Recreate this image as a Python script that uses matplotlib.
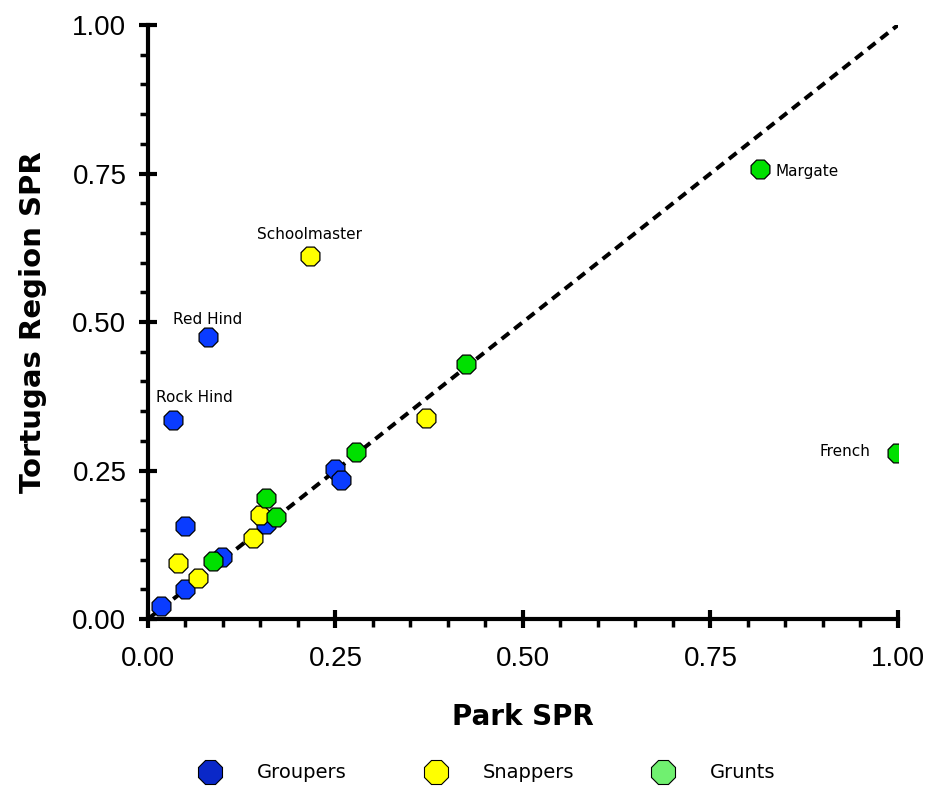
import matplotlib
matplotlib.use("Agg")
import matplotlib.pyplot as plt
from matplotlib.ticker import MultipleLocator
from matplotlib.lines import Line2D

# Park SPR (x) vs Tortugas Region SPR (y)
grouper_x = [0.017, 0.050, 0.049, 0.033, 0.080, 0.099, 0.157, 0.249, 0.257]
grouper_y = [0.022, 0.050, 0.157, 0.335, 0.475, 0.104, 0.160, 0.252, 0.234]

snapper_x = [0.040, 0.067, 0.140, 0.149, 0.216, 0.371]
snapper_y = [0.094, 0.069, 0.137, 0.175, 0.611, 0.338]

grunt_x = [0.087, 0.157, 0.171, 0.277, 0.424, 0.816, 0.999]
grunt_y = [0.098, 0.204, 0.172, 0.281, 0.429, 0.758, 0.279]

labels = ["Rock Hind", "Red Hind", "Schoolmaster", "Margate", "French"]
label_x = [0.033, 0.080, 0.216, 0.816, 0.999]
label_y = [0.335, 0.475, 0.611, 0.758, 0.279]

blue = "#0a3cff"
yellow = "#ffff00"
green = "#00e000"

fig = plt.figure(figsize=(9.25, 7.92), dpi=100)
ax = fig.add_axes([0.16, 0.2184, 0.8108, 0.75])

ax.plot([0, 1], [0, 1], color="black", linestyle=(0, (2.4, 1.6)), linewidth=2.9, zorder=2)

kw = dict(marker="8", s=215, edgecolors="black", linewidths=0.9, zorder=3)
ax.scatter(grouper_x, grouper_y, c=blue, **kw)
ax.scatter(snapper_x, snapper_y, c=yellow, **kw)
ax.scatter(grunt_x, grunt_y, c=green, **kw)

# point labels
lf = dict(fontsize=11, fontfamily="DejaVu Sans")
ax.annotate(labels[0], (label_x[0], label_y[0]), xytext=(-12, 13), textcoords="offset points", **lf)
ax.annotate(labels[1], (label_x[1], label_y[1]), xytext=(-25, 9), textcoords="offset points", **lf)
ax.annotate(labels[2], (label_x[2], label_y[2]), xytext=(-38, 12), textcoords="offset points", **lf)
ax.annotate(labels[3], (label_x[3], label_y[3]), xytext=(11, -5), textcoords="offset points", **lf)
ax.annotate(labels[4], (label_x[4], label_y[4]), xytext=(-56, -2), textcoords="offset points", **lf)

ax.set_xlim(0, 1)
ax.set_ylim(0, 1)
for s in ["top", "right"]:
    ax.spines[s].set_visible(False)
for s in ["left", "bottom"]:
    ax.spines[s].set_linewidth(3)

ax.xaxis.set_major_locator(MultipleLocator(0.25))
ax.yaxis.set_major_locator(MultipleLocator(0.25))
ax.xaxis.set_minor_locator(MultipleLocator(0.05))
ax.yaxis.set_minor_locator(MultipleLocator(0.05))
ax.xaxis.set_major_formatter(lambda v, p: f"{v:.2f}")
ax.yaxis.set_major_formatter(lambda v, p: f"{v:.2f}")
ax.tick_params(which="major", direction="inout", length=13, width=3, labelsize=20)
ax.tick_params(axis="x", which="major", pad=13)
ax.tick_params(axis="y", which="major", pad=9)
ax.tick_params(which="minor", direction="out", length=6, width=2.5)
for t in ax.get_xticklabels() + ax.get_yticklabels():
    t.set_fontfamily("Liberation Sans")

ax.set_xlabel("Park SPR", fontsize=20, fontweight="bold", labelpad=22)
ax.set_ylabel("Tortugas Region SPR", fontsize=21, fontweight="bold", labelpad=18)

handles = [
    Line2D([], [], marker="8", linestyle="none", markersize=18, markerfacecolor="#0a28c8", markeredgecolor="black", markeredgewidth=0.8),
    Line2D([], [], marker="8", linestyle="none", markersize=18, markerfacecolor=yellow, markeredgecolor="black", markeredgewidth=0.8),
    Line2D([], [], marker="8", linestyle="none", markersize=18, markerfacecolor="#70f070", markeredgecolor="black", markeredgewidth=0.8),
]
fig.legend(handles, ["Groupers", "Snappers", "Grunts"], loc="center",
           bbox_to_anchor=(0.522, 0.024), ncol=3, frameon=False, fontsize=14,
           handletextpad=1.4, columnspacing=3.6)

fig.savefig("out.png", dpi=100)
